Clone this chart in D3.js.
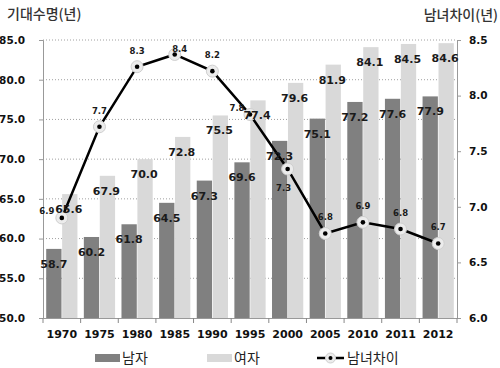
<!DOCTYPE html>
<html><head><meta charset="utf-8">
<script src="https://cdn.jsdelivr.net/npm/d3@7"></script>
<style>body{margin:0;background:#fff}svg{display:block}</style>
</head><body>
<svg id="c" width="500" height="368"></svg>
<script>
const years = ["1970","1975","1980","1985","1990","1995","2000","2005","2010","2011","2012"];
const male = [58.7,60.2,61.8,64.5,67.3,69.6,72.3,75.1,77.2,77.6,77.9];
const female = [65.6,67.9,70.0,72.8,75.5,77.4,79.6,81.9,84.1,84.5,84.6];
const gap = [6.90,7.72,8.26,8.37,8.22,7.83,7.34,6.76,6.86,6.80,6.67];
const leftTicks = [50,55,60,65,70,75,80,85];
const rightTicks = [6.0,6.5,7.0,7.5,8.0,8.5];
const seriesNames = ["남자","여자","남녀차이"];
const leftTitle = "기대수명(년)";
const rightTitle = "남녀차이(년)";

const svg = d3.select("#c");
const L = 43, R = 457, T = 40, B = 318;
const numFont = "'DejaVu Sans', Verdana, sans-serif";
const krFont = "'Noto Sans CJK KR', sans-serif";

const x0 = d3.scaleBand().domain(years).range([L, R]).padding(0);
const groupW = x0.bandwidth() * 0.83;
const x1 = d3.scaleBand().domain(["m","f"]).range([0, groupW]).paddingInner(0.04);
const yL = d3.scaleLinear().domain([50, 85]).range([B, T]);
const yR = d3.scaleLinear().domain([6.0, 8.5]).range([B, T]);
const gx = d => x0(d) + (x0.bandwidth() - groupW) / 2;

// gridlines
svg.append("g").selectAll("line").data(leftTicks.filter(t => t > 50)).join("line")
  .attr("x1", L).attr("x2", R).attr("y1", d => yL(d)).attr("y2", d => yL(d))
  .attr("stroke", "#a0a0a0").attr("stroke-width", 1).attr("stroke-dasharray", "1,2");

// bars
const rows = years.map((y, i) => ({y, m: male[i], f: female[i], g: gap[i], i}));
svg.append("g").selectAll("rect").data(rows).join("rect")
  .attr("x", d => gx(d.y) + x1("m")).attr("width", x1.bandwidth())
  .attr("y", d => yL(d.m)).attr("height", d => B - yL(d.m)).attr("fill", "#808080");
svg.append("g").selectAll("rect").data(rows).join("rect")
  .attr("x", d => gx(d.y) + x1("f")).attr("width", x1.bandwidth())
  .attr("y", d => yL(d.f)).attr("height", d => B - yL(d.f)).attr("fill", "#d9d9d9");

// axes
const axL = d3.axisLeft(yL).tickValues(leftTicks).tickFormat(d3.format(".1f")).tickSize(4).tickPadding(14);
const gL = svg.append("g").attr("transform", `translate(${L},0)`).call(axL);
const axR = d3.axisRight(yR).tickValues(rightTicks).tickFormat(d3.format(".1f")).tickSize(4).tickPadding(8);
const gR = svg.append("g").attr("transform", `translate(${R},0)`).call(axR);
const axB = d3.axisBottom(x0).tickSize(0).tickPadding(12);
const gB = svg.append("g").attr("transform", `translate(0,${B})`).call(axB);
// category boundary ticks
svg.append("g").selectAll("line").data(years.concat(["end"])).join("line")
  .attr("x1", (d, i) => L + i * x0.step()).attr("x2", (d, i) => L + i * x0.step())
  .attr("y1", B).attr("y2", B + 5).attr("stroke", "#888");
[gL, gR, gB].forEach(g => {
  g.select(".domain").attr("stroke", "#999");
  g.selectAll(".tick line").attr("stroke", "#999");
  g.selectAll("text").attr("font-family", numFont).attr("font-weight", "bold")
    .attr("font-size", 10.5).attr("fill", "#111");
});
gB.selectAll("text").attr("font-size", 11);

// line
const cx = d => x0(d.y) + x0.bandwidth() / 2;
svg.append("path").datum(rows)
  .attr("d", d3.line().x(cx).y(d => yR(d.g)))
  .attr("fill", "none").attr("stroke", "#000").attr("stroke-width", 2.5);
svg.append("g").selectAll("circle").data(rows).join("circle")
  .attr("cx", cx).attr("cy", d => yR(d.g)).attr("r", 6)
  .attr("fill", "#ececec").attr("stroke", "#cfcfcf").attr("stroke-width", 1);
svg.append("g").selectAll("circle").data(rows).join("circle")
  .attr("cx", cx).attr("cy", d => yR(d.g)).attr("r", 2.3).attr("fill", "#000");

// bar labels (drawn above the line)
svg.append("g").selectAll("text").data(rows).join("text")
  .attr("x", d => gx(d.y) + x1("m") + x1.bandwidth() / 2)
  .attr("y", d => yL(d.m) + 19).attr("text-anchor", "middle")
  .attr("font-family", numFont).attr("font-weight", "bold").attr("font-size", 11).attr("fill", "#1a1a1a")
  .text(d => d.m.toFixed(1));
svg.append("g").selectAll("text").data(rows).join("text")
  .attr("x", d => gx(d.y) + x1("f") + x1.bandwidth() / 2 - 1)
  .attr("y", d => yL(d.f) + 19).attr("text-anchor", "middle")
  .attr("font-family", numFont).attr("font-weight", "bold").attr("font-size", 11).attr("fill", "#1a1a1a")
  .text(d => d.f.toFixed(1));

// gap labels: placement per point
const place = ["left","above","above","aboveR","above","left","below","above","above","above","above"];
svg.append("g").selectAll("text").data(rows).join("text")
  .attr("x", d => {
    const p = place[d.i];
    return cx(d) + (p === "left" ? (d.i === 0 ? -15 : -13) : p === "aboveR" ? 5 : p === "below" ? -4 : 0);
  })
  .attr("y", d => {
    const p = place[d.i];
    const y = yR(d.g);
    return p === "left" ? y - 4 : p === "below" ? y + 22 : p === "aboveR" ? y - 2 : y - 13;
  })
  .attr("text-anchor", "middle")
  .attr("font-family", numFont).attr("font-weight", "bold").attr("font-size", 8.5).attr("fill", "#1a1a1a")
  .text(d => d.g.toFixed(1));

// titles
svg.append("text").attr("x", 7).attr("y", 19).attr("font-family", krFont).attr("font-weight", 500)
  .attr("font-size", 14).attr("fill", "#333").text(leftTitle);
svg.append("text").attr("x", 498).attr("y", 20).attr("text-anchor", "end").attr("font-family", krFont).attr("font-weight", 500)
  .attr("font-size", 14).attr("fill", "#333").text(rightTitle);

// legend
const lg = svg.append("g").attr("font-family", krFont).attr("font-size", 14).attr("fill", "#222");
lg.append("rect").attr("x", 95).attr("y", 354).attr("width", 25).attr("height", 8).attr("fill", "#808080");
lg.append("text").attr("x", 122).attr("y", 363).text(seriesNames[0]);
lg.append("rect").attr("x", 207).attr("y", 354).attr("width", 25).attr("height", 8).attr("fill", "#d9d9d9");
lg.append("text").attr("x", 234).attr("y", 363).text(seriesNames[1]);
lg.append("line").attr("x1", 317).attr("x2", 344).attr("y1", 358).attr("y2", 358).attr("stroke", "#000").attr("stroke-width", 2.5);
lg.append("circle").attr("cx", 330.5).attr("cy", 358).attr("r", 5).attr("fill", "#ececec").attr("stroke", "#cfcfcf");
lg.append("circle").attr("cx", 330.5).attr("cy", 358).attr("r", 2).attr("fill", "#000");
lg.append("text").attr("x", 347).attr("y", 363).text(seriesNames[2]);
</script>
</body></html>
